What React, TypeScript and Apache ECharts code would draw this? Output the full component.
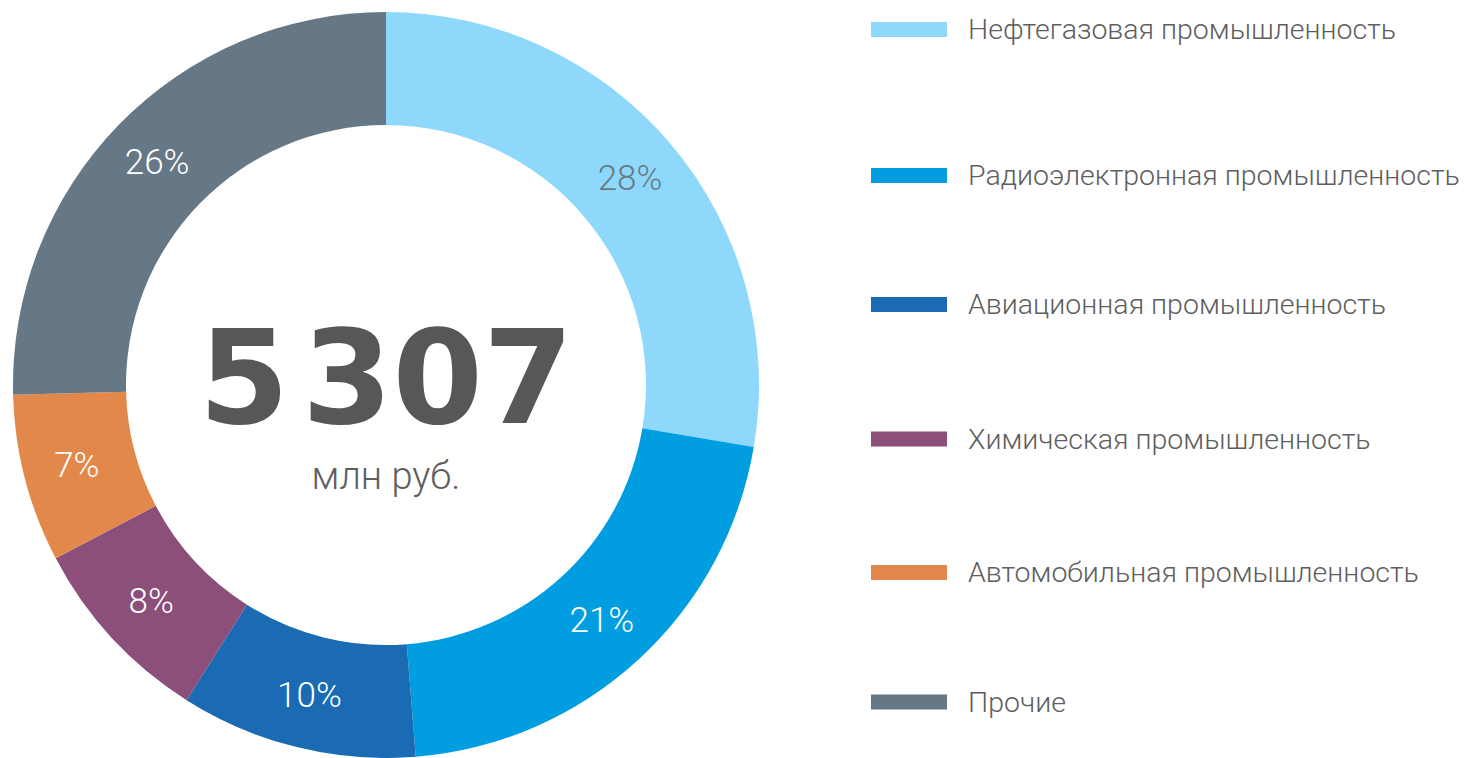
import React, { useEffect, useRef } from "react";
import * as echarts from "echarts";

const categories = [
  "Нефтегазовая промышленность",
  "Радиоэлектронная промышленность",
  "Авиационная промышленность",
  "Химическая промышленность",
  "Автомобильная промышленность",
  "Прочие",
];
const values = [1468, 1118, 544, 442, 386, 1349];
const percentLabels = ["28%", "21%", "10%", "8%", "7%", "26%"];
const colors = ["#8ed8fc", "#009ee0", "#1a6bb3", "#8c4f7a", "#e3884b", "#667886"];
const labelColors = ["#6a7a85", "#ffffff", "#ffffff", "#ffffff", "#ffffff", "#ffffff"];
const totalText = "5\u200A307";
const unitText = "млн руб.";
const legendTops = [14.5, 160.5, 289.5, 424, 557.5, 687];

export default function App() {
  const ref = useRef<HTMLDivElement>(null);
  useEffect(() => {
    if (!ref.current) return;
    const chart = echarts.init(ref.current, undefined, { renderer: "svg" });
    chart.setOption({
      animation: false,
      backgroundColor: "#ffffff",
      color: colors,
      legend: categories.map((c, i) => ({
        data: [c],
        left: 871,
        top: legendTops[i],
        padding: 0,
        icon: "rect",
        itemWidth: 76,
        itemHeight: 15,
        selectedMode: false,
        textStyle: {
          fontFamily: "Roboto",
          fontWeight: 300,
          fontSize: 28.5,
          lineHeight: 30,
          color: "#5e5e5e",
          padding: [0, 0, 0, 16],
        },
      })),
      graphic: [
        {
          type: "text",
          x: 386,
          y: 378,
          style: {
            text: totalText,
            align: "center",
            verticalAlign: "middle",
            fontFamily: "DejaVu Sans",
            fontWeight: 900,
            fontSize: 130,
            fill: "#575757",
          },
        },
        {
          type: "text",
          x: 386,
          y: 476,
          style: {
            text: unitText,
            align: "center",
            verticalAlign: "middle",
            fontFamily: "Roboto",
            fontWeight: 300,
            fontSize: 38,
            fill: "#5e5e5e",
          },
        },
      ],
      series: [
        {
          type: "pie",
          center: [386, 385],
          radius: [260, 373],
          startAngle: 90,
          clockwise: true,
          avoidLabelOverlap: false,
          emphasis: { disabled: true },
          label: {
            show: true,
            position: "inside",
            fontFamily: "Roboto",
            fontWeight: 300,
            fontSize: 35,
          },
          labelLine: { show: false },
          data: categories.map((c, i) => ({
            name: c,
            value: values[i],
            itemStyle: { color: colors[i] },
            label: { formatter: percentLabels[i], color: labelColors[i] },
          })),
        },
      ],
    });
    return () => chart.dispose();
  }, []);
  return (
    <div
      ref={ref}
      style={{ position: "absolute", left: 0, top: 0, width: 1464, height: 758 }}
    />
  );
}
